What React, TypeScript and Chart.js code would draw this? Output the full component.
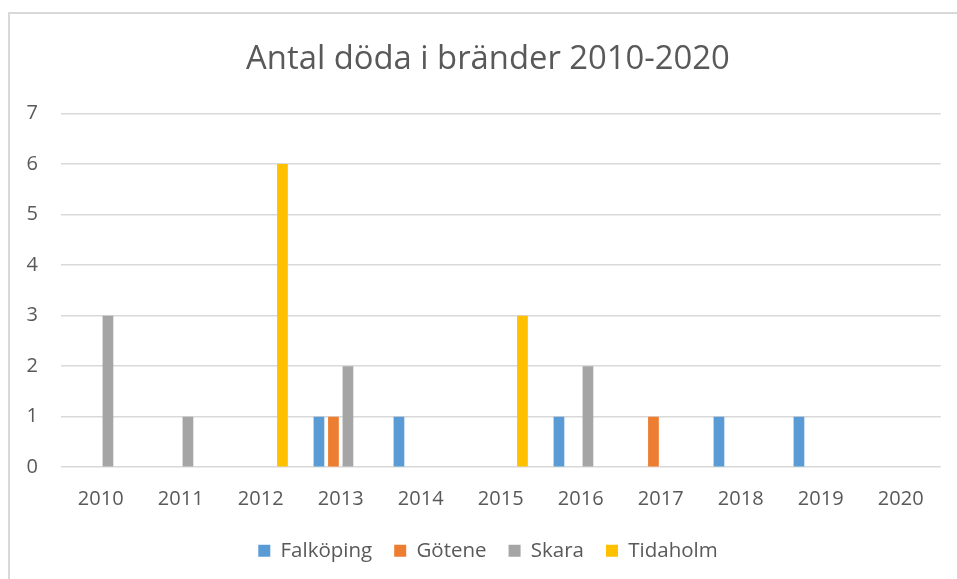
import React, { useEffect, useRef } from "react";
import { Chart, registerables } from "chart.js";

Chart.register(...registerables);

const categories = ["2010", "2011", "2012", "2013", "2014", "2015", "2016", "2017", "2018", "2019", "2020"];
const falkoping = [0, 0, 0, 1, 1, 0, 1, 0, 1, 1, 0];
const gotene = [0, 0, 0, 1, 0, 0, 0, 1, 0, 0, 0];
const skara = [3, 1, 0, 2, 0, 0, 2, 0, 0, 0, 0];
const tidaholm = [0, 0, 6, 0, 0, 3, 0, 0, 0, 0, 0];
const seriesNames = ["Falköping", "Götene", "Skara", "Tidaholm"];
const seriesColors = ["#5B9BD5", "#ED7D31", "#A5A5A5", "#FFC000"];
const titleText = "Antal döda i bränder 2010-2020";

const W = 957;
const H = 579;
const TEXT = "#595959";
const GRID = "#D9D9D9";

const framePlugin = {
  id: "frame",
  beforeDraw(chart: any) {
    const ctx = chart.ctx;
    ctx.save();
    ctx.fillStyle = "#ffffff";
    ctx.fillRect(0, 0, chart.width, chart.height);
    ctx.strokeStyle = GRID;
    ctx.lineWidth = 2;
    ctx.strokeRect(9, 13, chart.width + 20, chart.height + 20);
    ctx.restore();
  },
};

export default function App() {
  const ref = useRef<HTMLCanvasElement | null>(null);

  useEffect(() => {
    document.body.style.margin = "0";
    const canvas = ref.current;
    if (!canvas) return;
    Chart.defaults.font.family = "'Open Sans', 'Noto Sans', sans-serif";
    const data = [falkoping, gotene, skara, tidaholm];
    const chart = new Chart(canvas, {
      type: "bar",
      data: {
        labels: categories,
        datasets: seriesNames.map((name, i) => ({
          label: name,
          data: data[i],
          backgroundColor: seriesColors[i],
          borderWidth: 0,
          categoryPercentage: 0.725,
          barPercentage: 0.74,
        })),
      },
      options: {
        animation: false,
        responsive: false,
        maintainAspectRatio: false,
        layout: { padding: { left: 19, right: 0, top: 0, bottom: 8 } },
        plugins: {
          title: {
            display: true,
            text: titleText,
            color: TEXT,
            font: { size: 32.8, weight: "normal" },
            padding: { top: 40.3, bottom: 33.9 },
          },
          legend: {
            position: "bottom",
            labels: {
              color: TEXT,
              font: { size: 20.5 },
              boxWidth: 12,
              boxHeight: 12,
              padding: 22,
            },
          },
          tooltip: { enabled: false },
        },
        scales: {
          x: {
            grid: { display: false, drawTicks: false },
            border: { display: false },
            ticks: { color: TEXT, font: { size: 20 }, padding: 20, autoSkip: false, maxRotation: 0 },
            afterFit(scale: any) {
              scale.height = 51.3;
            },
          },
          y: {
            min: 0,
            max: 7,
            grid: { color: GRID, lineWidth: 1.5, drawTicks: false },
            border: { display: false },
            ticks: { stepSize: 1, color: TEXT, font: { size: 20 }, padding: 22.7 },
            afterFit(scale: any) {
              scale.width = 41.7;
            },
          },
          yRight: {
            type: "linear",
            position: "right",
            grid: { display: false, drawTicks: false },
            border: { display: false },
            ticks: { display: false },
            afterFit(scale: any) {
              scale.width = 16.3;
            },
          },
        },
      },
      plugins: [framePlugin],
    });
    return () => chart.destroy();
  }, []);

  return (
    <div style={{ position: "absolute", left: 0, top: 0, width: W, height: H }}>
      <canvas ref={ref} width={W} height={H} style={{ width: W, height: H, display: "block" }} />
    </div>
  );
}
